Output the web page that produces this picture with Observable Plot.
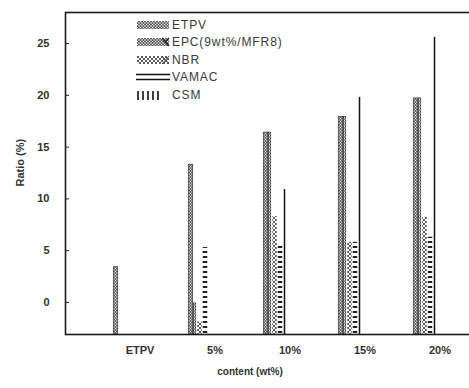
<!DOCTYPE html>
<html>
<head>
<meta charset="utf-8">
<script src="https://cdn.jsdelivr.net/npm/d3@7"></script>
<script src="https://cdn.jsdelivr.net/npm/@observablehq/plot@0.6"></script>
<style>
  html, body { margin: 0; padding: 0; background: #fff; overflow: hidden; }
  #wrap { position: relative; width: 469px; height: 388px; overflow: hidden; }
  #chart svg { max-width: none !important; display: block; }
  #legend { position: absolute; left: 136px; top: 16px; font-family: "Liberation Sans", Arial, sans-serif; font-size: 12px; color: #3a3a3a; letter-spacing: 0.9px; }
  .row { display: flex; align-items: center; height: 17.5px; }
  .row svg { margin-right: 1px; display: block; }
</style>
</head>
<body>
<svg width="0" height="0" style="position:absolute">
  <defs>
    <pattern id="pETPV" patternUnits="userSpaceOnUse" width="3" height="3">
      <rect width="3" height="3" fill="#fff"/>
      <circle cx="1.5" cy="1.5" r="1.1" fill="none" stroke="#1a1a1a" stroke-width="0.9"/>
    </pattern>
    <pattern id="pEPC" patternUnits="userSpaceOnUse" width="3" height="3">
      <rect width="3" height="3" fill="#fff"/>
      <rect width="2" height="1" fill="#222"/>
      <rect x="1" y="1.5" width="2" height="1" fill="#222"/>
    </pattern>
    <pattern id="pNBR" patternUnits="userSpaceOnUse" width="4" height="4">
      <rect width="4" height="4" fill="#fff"/>
      <path d="M0,0L4,4M4,0L0,4" stroke="#333" stroke-width="0.8"/>
    </pattern>
    <pattern id="pCSM" patternUnits="userSpaceOnUse" width="6" height="5">
      <rect width="6" height="5" fill="#fff"/>
      <rect y="1" width="6" height="2" fill="#222"/>
    </pattern>
  </defs>
</svg>
<div id="wrap">
  <div id="chart"></div>
  <div id="legend"></div>
</div>
<script>
const groups = ["ETPV", "5%", "10%", "15%", "20%"];
const seriesNames = ["ETPV", "EPC(9wt%/MFR8)", "NBR", "VAMAC", "CSM"];
const etpvValues  = [3.4, 13.3, 16.4, 17.9, 19.7];
const epcValues   = [null, -0.1, 16.4, 17.9, 19.7];
const nbrValues   = [null, -1.9, 8.3, 5.8, 8.2];
const vamacValues = [null, null, 10.9, 19.8, 25.6];
const csmValues   = [null, 5.3, 5.5, 5.8, 6.3];
const yTicks = [0, 5, 10, 15, 20, 25];
const yDomain = [-3.1, 28.0];
const yLabel = "Ratio (%)";
const xLabel = "content (wt%)";

const rows = (vals) => groups.map((g, i) => ({group: g, value: vals[i]})).filter(d => d.value != null);

const step = 75.5;
const half = step / 2;
function bar(vals, offset, w, opts) {
  return Plot.barY(rows(vals), {
    x: "group", y1: yDomain[0], y2: "value",
    insetLeft: half + offset - w / 2,
    insetRight: half - offset - w / 2,
    ...opts
  });
}

const chart = Plot.plot({
  width: 480,
  height: 388,
  marginLeft: 65,
  marginRight: 2,
  marginTop: 12,
  marginBottom: 54,
  style: {fontFamily: "'Liberation Sans', Arial, sans-serif", fontSize: "11px", color: "#222", background: "#fff"},
  x: {domain: groups, range: [100.25, 100.25 + 5 * step], padding: 0},
  y: {domain: yDomain},
  marks: [
    bar(etpvValues, -24, 5, {fill: "url(#pETPV)", stroke: "#222", strokeWidth: 0.6}),
    bar(epcValues, -20, 3, {fill: "url(#pEPC)", stroke: "#222", strokeWidth: 0.6}),
    bar(nbrValues, -15, 5, {fill: "url(#pNBR)"}),
    bar(csmValues, -9.5, 5, {fill: "url(#pCSM)"}),
    bar(vamacValues, -5, 2, {fill: "#111"}),
    Plot.frame({stroke: "#1a1a1a", strokeWidth: 1.6}),
    Plot.axisY(yTicks, {tickSize: 4, dx: 4, text: null, stroke: "#222", label: null}),
    Plot.axisY(yTicks, {tickSize: 0, tickPadding: 16, fontWeight: "bold", fill: "#333", label: null}),
    Plot.text([yLabel], {frameAnchor: "left", rotate: -90, dx: -45, dy: 13, fontWeight: "bold", fill: "#333"}),
    Plot.axisX({tickSize: 0, tickPadding: 12, fontWeight: "bold", fill: "#333", label: null}),
    Plot.text([xLabel], {frameAnchor: "bottom", dy: 40, dx: -22, fontWeight: "bold", fontSize: 10, fill: "#333"})
  ]
});
document.getElementById("chart").appendChild(chart);

const swatches = {
  "ETPV": `<svg width="35" height="10"><rect x="1" y="1" width="32" height="8" fill="url(#pETPV)"/></svg>`,
  "EPC(9wt%/MFR8)": `<svg width="35" height="10"><rect x="1" y="1" width="32" height="8" fill="url(#pETPV)"/><path d="M26,1L33,9M29,5L33,1" stroke="#222" stroke-width="1.4"/></svg>`,
  "NBR": `<svg width="35" height="10"><rect x="1" y="1" width="32" height="8" fill="url(#pNBR)"/><path d="M26,1L33,9M33,1L26,9" stroke="#444" stroke-width="1"/></svg>`,
  "VAMAC": `<svg width="35" height="10"><path d="M0,2.5H34M0,7.5H34" stroke="#111" stroke-width="1.6"/></svg>`,
  "CSM": `<svg width="35" height="10"><path d="M2,1V10M7,1V10M12,1V10M17,1V10M22,1V10" stroke="#111" stroke-width="1.6"/></svg>`
};
const legend = document.getElementById("legend");
for (const name of seriesNames) {
  const row = document.createElement("div");
  row.className = "row";
  row.innerHTML = swatches[name] + `<span>${name}</span>`;
  legend.appendChild(row);
}
</script>
</body>
</html>
